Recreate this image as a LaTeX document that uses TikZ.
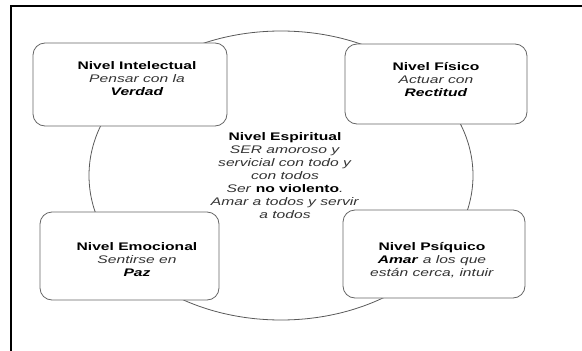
\documentclass[tikz,border=0pt]{standalone}
\usepackage{fontspec}
\setmainfont{Liberation Sans}
\usetikzlibrary{shapes.geometric}
\newcommand{\wtext}[1]{\scalebox{1.42}[1]{\begin{tabular}{@{}c@{}}#1\end{tabular}}}
\begin{document}
\begin{tikzpicture}[x=1pt,y=-1pt,
  box/.style={draw=black!60, fill=white, rounded corners=12pt, line width=0.8pt, inner sep=0pt},
  lbl/.style={align=center, inner sep=0pt, font=\fontsize{11}{13}\selectfont, text=black!80},
  ring/.style={draw=black!65, line width=0.8pt},
  frame/.style={draw=black, line width=2pt}]
\useasboundingbox (0,0) rectangle (582,351);
\coordinate (fa) at (11,351);
\coordinate (fb) at (11,5.5);
\coordinate (fc) at (582,5.5);
\draw[frame] (fa) -- (fb) -- (fc);
\node[ring, ellipse, minimum width=384pt, minimum height=289pt, inner sep=0pt] (ring) at (281,175.5) {};
\node[box, minimum width=194pt, minimum height=83pt] (bi) at (130,84.5) {};
\node[box, minimum width=182pt, minimum height=80pt] (bf) at (436,84) {};
\node[box, minimum width=179pt, minimum height=88pt] (be) at (129.5,256) {};
\node[box, minimum width=182pt, minimum height=88pt] (bp) at (434,254) {};
\node[lbl] (ti) at (137,80) {\wtext{\textcolor{black}{\textbf{Nivel Intelectual}}\\ \textit{Pensar con la}\\ \textcolor{black}{\textbf{\textit{Verdad}}}}};
\node[lbl] (tf) at (436,81) {\wtext{\textcolor{black}{\textbf{Nivel Físico}}\\ \textit{Actuar con}\\ \textcolor{black}{\textbf{\textit{Rectitud}}}}};
\node[lbl] (te) at (137,261) {\wtext{\textcolor{black}{\textbf{Nivel Emocional}}\\ \textit{Sentirse en}\\ \textcolor{black}{\textbf{\textit{Paz}}}}};
\node[lbl] (tp) at (432,260.5) {\wtext{\textcolor{black}{\textbf{Nivel Psíquico}}\\ \textcolor{black}{\textbf{\textit{Amar}}} \textit{a los que}\\ \textit{están cerca, intuir}}};
\node[lbl] (ts) at (285,177) {\wtext{\textcolor{black}{\textbf{Nivel Espiritual}}\\ \textit{SER amoroso y}\\ \textit{servicial con todo y}\\ \textit{con todos}\\ \textit{Ser} \textcolor{black}{\textbf{no violento}}\textit{.}\\ \textit{Amar a todos y servir}\\ \textit{a todos}}};
\end{tikzpicture}
\end{document}
